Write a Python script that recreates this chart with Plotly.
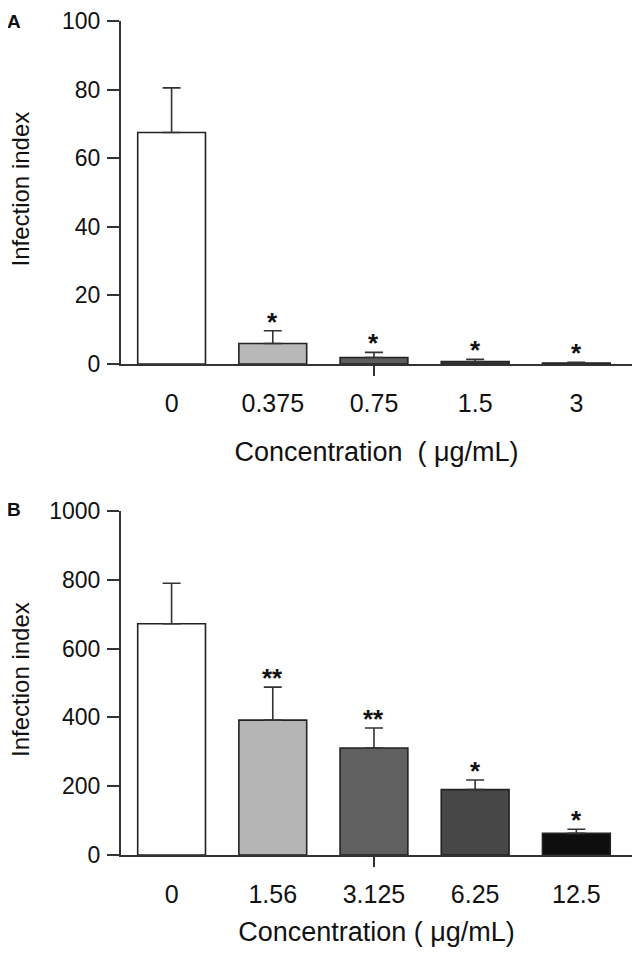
import plotly.graph_objects as go

# Panel A data
cats_a = ["0", "0.375", "0.75", "1.5", "3"]
mean_a = [67.5, 6.0, 1.9, 0.7, 0.3]
err_a = [13.0, 3.7, 1.5, 0.7, 0.2]
stars_a = ["", "*", "*", "*", "*"]
colors_a = ["#ffffff", "#b8b8b8", "#5e5e5e", "#4a4a4a", "#2a2a2a"]

# Panel B data
cats_b = ["0", "1.56", "3.125", "6.25", "12.5"]
mean_b = [672, 392, 311, 190, 63]
err_b = [118, 96, 58, 28, 12]
stars_b = ["", "**", "**", "*", "*"]
colors_b = ["#ffffff", "#b5b5b5", "#606060", "#474747", "#0e0e0e"]

FONT = "Arial, Liberation Sans, sans-serif"
AX = "#333333"
TXT = "#111111"

fig = go.Figure()

def add_panel(cats, means, errs, colors, xa, ya):
    fig.add_trace(go.Bar(
        x=cats, y=means, xaxis=xa, yaxis=ya,
        marker=dict(color=colors, line=dict(color="#222222", width=1.6)),
        width=0.67,
        error_y=dict(type="data", symmetric=False, array=errs,
                     arrayminus=[0] * len(errs), color="#333333",
                     thickness=1.6, width=9),
        showlegend=False, hoverinfo="skip"))

add_panel(cats_a, mean_a, err_a, colors_a, "x", "y")
add_panel(cats_b, mean_b, err_b, colors_b, "x2", "y2")

domA = [0.5887, 1.0]
domB = [0.0, 0.4125]
xr = [-0.5, 4.55]
PW = 511.0
PH = 834.0

common_x = dict(type="category", range=xr, showline=True, linecolor=AX, linewidth=2,
                ticks="", showgrid=False, zeroline=False, ticklabelstandoff=16,
                automargin=False,
                tickfont=dict(family=FONT, size=25, color=TXT),
                title_font=dict(family=FONT, size=27, color=TXT))
common_y = dict(showline=True, linecolor=AX, linewidth=2, ticks="outside", ticklen=12,
                tickwidth=2, tickcolor=AX, showgrid=False, zeroline=False,
                automargin=False, ticklabelstandoff=2,
                tickfont=dict(family=FONT, size=23, color=TXT))

fig.update_layout(
    width=642, height=961,
    margin=dict(l=113, r=18, t=13, b=114, autoexpand=False),
    paper_bgcolor="white", plot_bgcolor="white",
    xaxis=dict(**common_x, domain=[0, 1], anchor="y",
               title=dict(text="Concentration  ( \u03bcg/mL)", standoff=26)),
    yaxis=dict(**common_y, domain=domA, anchor="x", range=[0, 100],
               tickvals=[0, 20, 40, 60, 80, 100]),
    xaxis2=dict(**common_x, domain=[0, 1], anchor="y2",
                title=dict(text="Concentration ( \u03bcg/mL)", standoff=15)),
    yaxis2=dict(**common_y, domain=domB, anchor="x2", range=[0, 1000],
                tickvals=[0, 200, 400, 600, 800, 1000]),
    # overlay axes carrying the single centre tick
    xaxis3=dict(type="linear", range=xr, overlaying="x", anchor="y", side="bottom",
                tickvals=[2], ticktext=[""], automargin=False,
                ticks="outside", ticklen=11, tickwidth=2, tickcolor=AX,
                showline=False, showgrid=False, zeroline=False),
    xaxis4=dict(type="linear", range=xr, overlaying="x2", anchor="y2", side="bottom",
                tickvals=[2], ticktext=[""], automargin=False,
                ticks="outside", ticklen=11, tickwidth=2, tickcolor=AX,
                showline=False, showgrid=False, zeroline=False),
)

# invisible traces so the overlay axes render
fig.add_trace(go.Scatter(x=list(range(len(cats_a))), y=mean_a, xaxis="x3", yaxis="y",
                         mode="markers", marker=dict(opacity=0), showlegend=False,
                         hoverinfo="skip"))
fig.add_trace(go.Scatter(x=list(range(len(cats_b))), y=mean_b, xaxis="x4", yaxis="y2",
                         mode="markers", marker=dict(opacity=0), showlegend=False,
                         hoverinfo="skip"))

# significance stars (x as category index)
for cats, means, errs, stars, xr_, yr_ in [(cats_a, mean_a, err_a, stars_a, "x", "y"),
                                            (cats_b, mean_b, err_b, stars_b, "x2", "y2")]:
    for i, (m, e, s) in enumerate(zip(means, errs, stars)):
        if s:
            fig.add_annotation(x=i, y=m + e, xref=xr_, yref=yr_, text="<b>" + s + "</b>",
                               showarrow=False, xanchor="center", yanchor="bottom",
                               yshift=-8, font=dict(family=FONT, size=26, color=TXT))

# y-axis titles
for dom in (domA, domB):
    fig.add_annotation(x=(21 - 121) / PW, y=(dom[0] + dom[1]) / 2 + 3 / PH, xref="paper",
                       yref="paper", text="Infection index", textangle=-90, showarrow=False,
                       xanchor="center", yanchor="middle", borderpad=0,
                       font=dict(family=FONT, size=24, color=TXT))

# panel letters
fig.add_annotation(x=(14 - 121) / PW, y=1.0 - 1 / PH, xref="paper", yref="paper",
                   text="<b>A</b>", showarrow=False, xanchor="center", yanchor="middle",
                   borderpad=0, font=dict(family=FONT, size=19, color=TXT))
fig.add_annotation(x=(14 - 121) / PW, y=domB[1] + 1 / PH, xref="paper", yref="paper",
                   text="<b>B</b>", showarrow=False, xanchor="center", yanchor="middle",
                   borderpad=0, font=dict(family=FONT, size=19, color=TXT))

fig.write_html("out.html")
